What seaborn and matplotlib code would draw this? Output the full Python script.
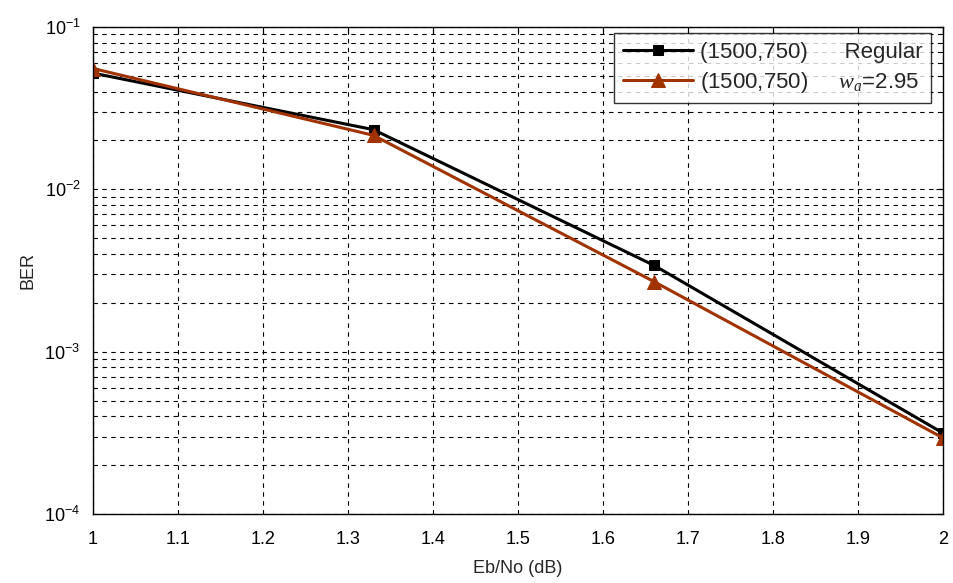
import matplotlib
matplotlib.use("Agg")
import matplotlib.pyplot as plt
import seaborn as sns
import pandas as pd
from matplotlib.ticker import LogLocator, FixedLocator, NullFormatter

ebno = [1.0, 1.33, 1.66, 2.0]
ber_regular = [0.052, 0.0233, 0.0034, 0.000315]
ber_wa = [0.0555, 0.0215, 0.0027, 0.000294]
label_regular = "(1500,750)      Regular"
label_wa = r"(1500,750)     $w_a$=2.95"
xticks = [1, 1.1, 1.2, 1.3, 1.4, 1.5, 1.6, 1.7, 1.8, 1.9, 2]

sns.set_style("white")
plt.rcParams['font.family'] = ['Liberation Sans', 'DejaVu Sans']
plt.rcParams['mathtext.fontset'] = 'custom'
plt.rcParams['mathtext.it'] = 'Liberation Serif:italic'
plt.rcParams['mathtext.rm'] = 'Liberation Sans'

df = pd.concat([
    pd.DataFrame({"Eb/No": ebno, "BER": ber_regular, "series": label_regular}),
    pd.DataFrame({"Eb/No": ebno, "BER": ber_wa, "series": label_wa}),
])

fig = plt.figure(figsize=(9.54, 5.83), dpi=100)
ax = fig.add_axes([0.0975, 0.1184, 0.891, 0.8353])

sns.lineplot(data=df[df.series == label_regular], x="Eb/No", y="BER", ax=ax,
             color="black", linewidth=2.2, marker="s", markersize=6.5,
             markerfacecolor="black", markeredgecolor="black", label=label_regular)
sns.lineplot(data=df[df.series == label_wa], x="Eb/No", y="BER", ax=ax,
             color="#a03300", linewidth=2.2, marker="^", markersize=10,
             markerfacecolor="#a03300", markeredgecolor="#a03300", label=label_wa)

ax.set_yscale("log")
ax.set_ylim(1e-4, 1e-1)
ax.set_xlim(1, 2)
ax.xaxis.set_major_locator(FixedLocator(xticks))
ax.set_xticklabels([f"{t:g}" for t in xticks])
ax.yaxis.set_major_locator(LogLocator(base=10, numticks=10))
ax.yaxis.set_minor_locator(LogLocator(base=10, subs=range(2, 10), numticks=20))
ax.yaxis.set_minor_formatter(NullFormatter())

ax.grid(True, which="major", axis="both", color="black", linestyle=(0, (4, 4)), linewidth=0.8)
ax.grid(True, which="minor", axis="y", color="black", linestyle=(0, (4, 4)), linewidth=0.8)

ax.tick_params(axis="both", which="both", direction="in", top=True, right=True,
               labelsize=13, colors="black")
ax.tick_params(axis="x", which="major", length=5, pad=12)
ax.tick_params(axis="y", which="major", length=5, pad=9)
ax.tick_params(axis="y", which="minor", length=3)
for s in ax.spines.values():
    s.set_color("black")
    s.set_linewidth(1.0)

ax.set_xlabel("Eb/No (dB)", fontsize=13, labelpad=9)
ax.set_ylabel("BER", fontsize=13, labelpad=6)

leg = ax.legend(loc="upper right", bbox_to_anchor=(0.9859, 0.9877),
                fontsize=16, frameon=True, fancybox=False,
                edgecolor="black", handlelength=3.15, borderaxespad=0.0,
                labelspacing=0.3, handletextpad=0.3, borderpad=0.4)
leg.get_frame().set_linewidth(1.0)

fig.savefig("out.png", dpi=100)
